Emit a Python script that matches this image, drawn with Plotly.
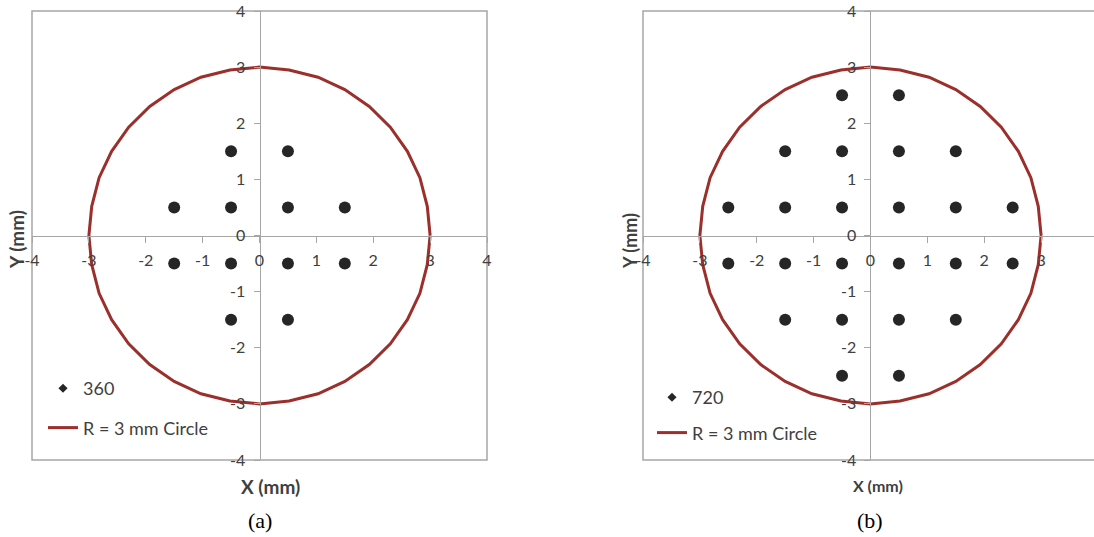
import plotly.graph_objects as go

# ---- data ----
x_360 = [-0.5, 0.5, -1.5, -0.5, 0.5, 1.5, -1.5, -0.5, 0.5, 1.5, -0.5, 0.5]
y_360 = [1.5, 1.5, 0.5, 0.5, 0.5, 0.5, -0.5, -0.5, -0.5, -0.5, -1.5, -1.5]

x_720 = [-0.5, 0.5,
         -1.5, -0.5, 0.5, 1.5,
         -2.5, -1.5, -0.5, 0.5, 1.5, 2.5,
         -2.5, -1.5, -0.5, 0.5, 1.5, 2.5,
         -1.5, -0.5, 0.5, 1.5,
         -0.5, 0.5]
y_720 = [2.5, 2.5,
         1.5, 1.5, 1.5, 1.5,
         0.5, 0.5, 0.5, 0.5, 0.5, 0.5,
         -0.5, -0.5, -0.5, -0.5, -0.5, -0.5,
         -1.5, -1.5, -1.5, -1.5,
         -2.5, -2.5]

circle_x = [3.00, 2.95, 2.82, 2.60, 2.30, 1.93, 1.50, 1.03, 0.52, 0.00,
            -0.52, -1.03, -1.50, -1.93, -2.30, -2.60, -2.82, -2.95, -3.00,
            -2.95, -2.82, -2.60, -2.30, -1.93, -1.50, -1.03, -0.52, 0.00,
            0.52, 1.03, 1.50, 1.93, 2.30, 2.60, 2.82, 2.95, 3.00]
circle_y = [0.00, 0.52, 1.03, 1.50, 1.93, 2.30, 2.60, 2.82, 2.95, 3.00,
            2.95, 2.82, 2.60, 2.30, 1.93, 1.50, 1.03, 0.52, 0.00,
            -0.52, -1.03, -1.50, -1.93, -2.30, -2.60, -2.82, -2.95, -3.00,
            -2.95, -2.82, -2.60, -2.30, -1.93, -1.50, -1.03, -0.52, 0.00]

tick_vals = [-4, -3, -2, -1, 0, 1, 2, 3, 4]
tick_text = [str(v) for v in tick_vals]

# ---- layout geometry ----
W, H = 1094, 537
dom_y = [(H - 460) / H, (H - 11) / H]
dom_x1 = [32 / W, 487 / W]
dom_x2 = [643 / W, 1.0]
range1 = [-4, 4]
range2 = [-4, 3.93]

def zero_pos(dom, rng):
    return dom[0] + (0 - rng[0]) / (rng[1] - rng[0]) * (dom[1] - dom[0])

y0_paper = zero_pos(dom_y, [-4, 4])
x0_p1 = zero_pos(dom_x1, range1)
x0_p2 = zero_pos(dom_x2, range2)

DOT = "#262626"
RED = "#9b2f2c"
GRAY = "#a6a6a6"
TXT = "#404040"
FONT = "Lato"

fig = go.Figure()

# panel (a)
fig.add_trace(go.Scatter(x=x_360, y=y_360, mode="markers", xaxis="x", yaxis="y",
                         marker=dict(size=12, color=DOT), showlegend=False))
fig.add_trace(go.Scatter(x=[None], y=[None], mode="markers", xaxis="x", yaxis="y",
                         marker=dict(size=7, color=DOT, symbol="diamond"),
                         name="360", legend="legend", legendgroup="a1"))
fig.add_trace(go.Scatter(x=circle_x, y=circle_y, mode="lines", xaxis="x", yaxis="y",
                         line=dict(color=RED, width=3),
                         name="R = 3 mm Circle", legend="legend", legendgroup="a2"))

# panel (b)
fig.add_trace(go.Scatter(x=x_720, y=y_720, mode="markers", xaxis="x2", yaxis="y2",
                         marker=dict(size=12, color=DOT), showlegend=False))
fig.add_trace(go.Scatter(x=[None], y=[None], mode="markers", xaxis="x2", yaxis="y2",
                         marker=dict(size=7, color=DOT, symbol="diamond"),
                         name="720", legend="legend2", legendgroup="b1"))
fig.add_trace(go.Scatter(x=circle_x, y=circle_y, mode="lines", xaxis="x2", yaxis="y2",
                         line=dict(color=RED, width=3),
                         name="R = 3 mm Circle", legend="legend2", legendgroup="b2"))

axis_common = dict(showgrid=False, zeroline=False, showline=True, linecolor=GRAY,
                   linewidth=1, ticks="outside", ticklen=6, tickcolor=GRAY,
                   tickvals=tick_vals, ticktext=tick_text, automargin=False,
                   tickfont=dict(family=FONT, size=16, color=TXT), fixedrange=True)

fig.update_layout(
    width=W, height=H, autosize=False,
    margin=dict(l=0, r=0, t=0, b=0, pad=0, autoexpand=False),
    paper_bgcolor="white", plot_bgcolor="white",
    xaxis=dict(domain=dom_x1, range=range1, anchor="free", position=y0_paper,
               ticklabelstandoff=4, **axis_common),
    yaxis=dict(domain=dom_y, range=[-4, 4], anchor="free", position=x0_p1,
               ticklabelstandoff=5, **axis_common),
    xaxis2=dict(domain=dom_x2, range=range2, anchor="free", position=y0_paper,
                ticklabelstandoff=4, **axis_common),
    yaxis2=dict(domain=dom_y, range=[-4, 4], anchor="free", position=x0_p2,
                ticklabelstandoff=5, **axis_common),
    legend=dict(x=43 / W, y=(H - 370) / H, xanchor="left", yanchor="top",
                bgcolor="rgba(0,0,0,0)", traceorder="grouped", tracegroupgap=13,
                font=dict(family=FONT, size=18, color=TXT)),
    legend2=dict(x=652 / W, y=(H - 379) / H, xanchor="left", yanchor="top",
                 bgcolor="rgba(0,0,0,0)", traceorder="grouped", tracegroupgap=9,
                 font=dict(family=FONT, size=18, color=TXT)),
    shapes=[
        dict(type="rect", xref="paper", yref="paper", x0=dom_x1[0], x1=dom_x1[1],
             y0=dom_y[0], y1=dom_y[1], line=dict(color=GRAY, width=1.5), layer="below"),
        dict(type="rect", xref="paper", yref="paper", x0=dom_x2[0], x1=1.01,
             y0=dom_y[0], y1=dom_y[1], line=dict(color=GRAY, width=1.5), layer="below"),
    ],
    annotations=[
        dict(text="<b>X (mm)</b>", x=270 / W, y=(H - 486) / H, xref="paper", yref="paper",
             xanchor="center", yanchor="middle",
             showarrow=False, font=dict(family=FONT, size=19, color=TXT)),
        dict(text="<b>Y (mm)</b>", x=17 / W, y=(H - 240) / H, xref="paper", yref="paper",
             xanchor="center", yanchor="middle",
             showarrow=False, textangle=-90, font=dict(family=FONT, size=19, color=TXT)),
        dict(text="<b>X (mm)</b>", x=878 / W, y=(H - 485) / H, xref="paper", yref="paper",
             xanchor="center", yanchor="middle",
             showarrow=False, font=dict(family=FONT, size=16, color=TXT)),
        dict(text="<b>Y (mm)</b>", x=630 / W, y=(H - 241) / H, xref="paper", yref="paper",
             xanchor="center", yanchor="middle",
             showarrow=False, textangle=-90, font=dict(family=FONT, size=18, color=TXT)),
        dict(text="(a)", x=260 / W, y=(H - 520) / H, xref="paper", yref="paper",
             xanchor="center", yanchor="middle",
             showarrow=False, font=dict(family="Liberation Serif", size=22, color="black")),
        dict(text="(b)", x=870 / W, y=(H - 520) / H, xref="paper", yref="paper",
             xanchor="center", yanchor="middle",
             showarrow=False, font=dict(family="Liberation Serif", size=22, color="black")),
    ],
)

fig.write_html("out.html", config={"displayModeBar": False},
               post_script="document.body.style.margin='0';document.body.style.overflow='hidden';")
